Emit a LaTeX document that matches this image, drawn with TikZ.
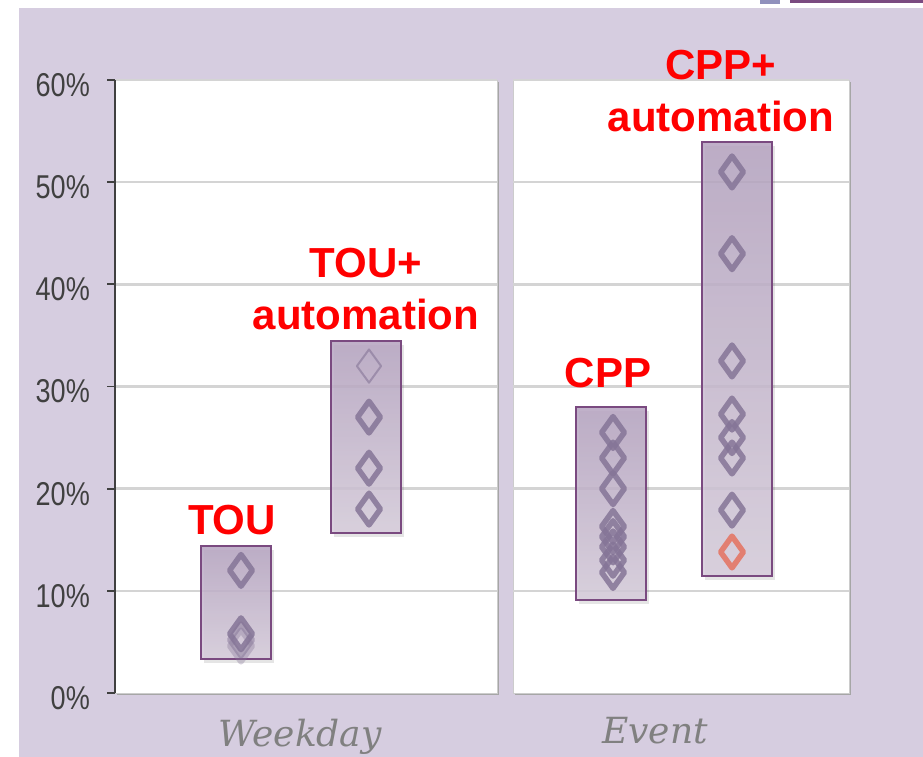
\documentclass[tikz,border=0pt]{standalone}
\usepackage{fontspec}
\newfontfamily\arialfont{Liberation Sans}
\newfontfamily\slabfont{DejaVu Serif}
\usetikzlibrary{positioning,shapes.geometric}
\definecolor{lav}{HTML}{D6CDE0}
\definecolor{barline}{HTML}{7A4A80}
\definecolor{bartop}{HTML}{B5A3C0}
\definecolor{barbot}{HTML}{D6CCDB}
\definecolor{dmd}{HTML}{857597}
\definecolor{dmdred}{HTML}{E5725F}

\begin{document}
\begin{tikzpicture}[x=1pt,y=1pt,
 every node/.style={inner sep=0pt},
 ylab/.style={font=\arialfont\fontsize{33}{36}\selectfont,text=black!75,xscale=.82,anchor=east},
 xlab/.style={font=\slabfont\itshape\fontsize{36}{40}\selectfont,text=black!50,anchor=base},
 tariff/.style={font=\arialfont\bfseries\fontsize{42}{52}\selectfont,text=red,align=center},
 bar/.style={top color=bartop,bottom color=barbot,fill opacity=.85,draw=barline,line width=2pt},
 barshadow/.style={fill=black,opacity=.1},
 panel/.style={fill=white,draw=black!20,line width=.8pt},
 gridline/.style={draw=black!17,line width=2.5pt},
 axisline/.style={draw=black!75,line width=1.8pt},
 pt/.style={diamond,draw=dmd,draw opacity=.85,line width=5.5pt,line join=round,
   minimum width=25pt,minimum height=34pt},
 ptred/.style={pt,draw=dmdred},
 ptthin/.style={pt,line width=2pt,draw opacity=.6}]
 \useasboundingbox (0,0) rectangle (923,757);
 \fill[white] (0,0) rectangle (923,757);
 \fill[lav] (19,0) rectangle (923,749);
 \fill[blue!25!gray!70] (760,753) rectangle (780,757);
 \fill[barline] (790,754) rectangle (923,757);

 \begin{scope}[shift={(0,64)},y=10.217pt]
 % panels
 \fill[black!35,xshift=2pt,yshift=-2pt] (115,0) rectangle (497,60);
 \fill[black!35,xshift=2pt,yshift=-2pt] (513,0) rectangle (849,60);
 \path[panel] (115,0) rectangle (497,60);
 \path[panel] (513,0) rectangle (849,60);
 \foreach \p in {10,20,...,60} {
   \draw[gridline] (116,\p) -- (497,\p);
   \draw[gridline] (513,\p) -- (849,\p);
 }
 \draw[axisline] (115,0) -- (115,60);
 \foreach \p in {0,10,...,60} {
   \draw[axisline] (107,\p) -- (115,\p);
   \node[ylab] (y\p) at (90,\p) [yshift=-5pt] {\p\%};
 }

 % bars
 \foreach \xa/\ya/\xb/\yb in {201/3.3/271/14.4,331/15.7/401/34.5,576/9.1/646/28.0,702/11.45/772/53.9} {
   \fill[barshadow,xshift=3pt,yshift=-4pt] (\xa,\ya) rectangle (\xb,\yb);
   \path[bar] (\xa,\ya) rectangle (\xb,\yb);
 }
 \coordinate (tou) at (236,14.4);
 \coordinate (touauto) at (366,34.5);
 \coordinate (cpp) at (611,28.0);
 \coordinate (cppauto) at (737,53.9);

 % points
 \node[pt,draw opacity=.35] (a3) at (241,4.6) {};
 \node[pt,draw opacity=.5] (a2) at (241,5.2) {};
 \foreach \v [count=\i] in {12,5.8}
   \node[pt] (a\i) at (241,\v) {};
 \node[ptthin] (b0) at (369,32) {};
 \foreach \v [count=\i] in {27,22,18}
   \node[pt] (b\i) at (369,\v) {};
 \foreach \v [count=\i] in {25.5,23,20,16.3,15.3,14.3,13,11.8}
   \node[pt] (c\i) at (613,\v) {};
 \foreach \v [count=\i] in {51,43,32.5,27.3,25,23,17.9}
   \node[pt] (d\i) at (732,\v) {};
 \node[ptred] (d8) at (732,13.8) {};

 % labels
 \node[tariff,above=11pt of tou,xshift=-4pt] (toul) {TOU};
 \node[tariff,above=10pt of touauto] (touautol) {TOU+\\automation};
 \node[tariff,above=19pt of cpp,xshift=-3pt] (cppl) {CPP};
 \node[tariff,above=10pt of cppauto,xshift=-16pt] (cppautol) {CPP+\\automation};
 \end{scope}

 \node[xlab] (wk) at (300,10) {Weekday};
 \node[xlab] (ev) at (655,13) {Event};
\end{tikzpicture}
\end{document}
